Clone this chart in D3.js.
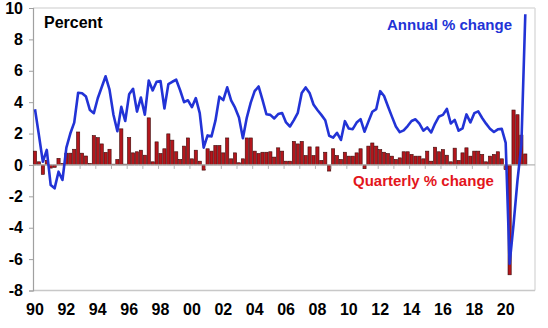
<!DOCTYPE html>
<html>
<head>
<meta charset="utf-8">
<script src="https://cdn.jsdelivr.net/npm/d3@7"></script>
<style>
  body { margin: 0; background: #fff; }
  svg { display: block; }
  text { font-family: "Liberation Sans", Arial, Helvetica, sans-serif; font-weight: bold; }
</style>
</head>
<body>
<svg id="chart" width="548" height="328"></svg>
<script>
// Australian real GDP growth, 1990 Q1 to 2021 Q2
const firstYear = 1990;
const quarterCount = 126;

// Quarterly % change
const quarterly = [
  0.88, 0.2, -0.6, 0.3, -0.2, -0.15, 0.42, 0.1,
  0.75, 0.75, 1.0, 2.1, 0.75, 0.57, 0.1, 1.87,
  1.74, 1.34, 0.8, 1.0, 0.05, 0.35, 2.3, 0.05,
  1.75, 0.77, 0.84, 0.94, 0.62, 3.0, 0.2, 1.47,
  0.73, 1.03, 1.98, 1.58, 0.84, 0.35, 1.2, 1.72,
  0.39, 0.94, 0.24, -0.33, 1.03, 0.88, 1.24, 1.24,
  0.77, 1.72, 0.39, 0.77, 0.14, 0.39, 1.72, 1.72,
  0.88, 0.73, 0.81, 0.81, 0.84, 0.5, 1.09, 0.88,
  0.24, 0.24, 1.5, 1.34, 1.5, 0.6, 1.15, 0.6,
  1.15, 0.29, 0.81, -0.39, 1.03, 0.6, 0.35, 0.81,
  0.56, 0.56, 0.77, 1.03, -0.24, 1.2, 1.4, 1.2,
  0.98, 0.81, 0.73, 0.56, 0.35, 0.45, 0.84, 0.84,
  0.67, 0.56, 0.56, 0.39, 0.88, 0.24, 1.13, 0.84,
  0.98, 0.62, 0.2, 1.07, 0.29, 0.77, 1.09, 0.56,
  0.88, 0.88, 0.67, 0.2, 0.56, 0.67, 0.84, 0.39,
  -0.3, -7.0, 3.5, 3.2, 1.9, 0.7
];

// Annual % change
const annual = [
  3.55, 1.9, 0.2, 0.96, -1.28, -1.49, -0.43, -0.96,
  1.1, 2.0, 2.7, 4.6, 4.57, 4.36, 3.5, 3.3,
  4.25, 4.95, 5.65, 4.8, 3.2, 2.15, 3.7, 2.8,
  4.5, 4.85, 3.4, 4.3, 3.2, 5.38, 4.75, 5.3,
  5.35, 3.6, 5.15, 5.3, 5.43, 4.76, 4.0, 4.12,
  3.68, 4.26, 3.3, 1.1, 1.88, 1.82, 2.82, 4.35,
  4.13, 4.95, 4.12, 3.65, 3.02, 1.7, 3.02, 3.97,
  4.7, 5.0, 4.14, 3.23, 3.19, 2.96, 3.24, 3.31,
  2.71, 2.45, 2.86, 3.32, 4.58, 4.94, 4.59, 3.85,
  3.5, 3.19, 2.85, 1.86, 1.74, 2.05, 1.59, 2.79,
  2.32, 2.28, 2.7, 2.92, 2.12, 2.76, 3.39, 3.56,
  4.7, 4.39, 3.72, 3.08, 2.45, 2.09, 2.2, 2.48,
  2.8, 2.91, 2.63, 2.18, 2.39, 2.07, 2.64, 3.09,
  3.19, 3.57, 2.64, 2.87, 2.18, 2.33, 3.22, 2.71,
  3.3, 3.41, 2.99, 2.63, 2.31, 2.1, 2.27, 2.3,
  1.4, -6.3, -3.8, -1.0, 1.3, 9.6
];

const yTicks = [-8, -6, -4, -2, 0, 2, 4, 6, 8, 10];
const xTickLabels = ["90", "92", "94", "96", "98", "00", "02", "04",
                     "06", "08", "10", "12", "14", "16", "18", "20"];

const quarters = d3.range(quarterCount).map(i =>
  `${firstYear + Math.floor(i / 4)}Q${(i % 4) + 1}`);
const rows = quarters.map((q, i) => ({ q, i, qq: quarterly[i], yy: annual[i] }));

const svg = d3.select("#chart");
const plotLeft = 33, plotRight = 535, plotTop = 8, plotBottom = 290.5;

const x = d3.scaleLinear().domain([0, quarterCount - 1]).range([35, 525.3]);
const y = d3.scaleLinear().domain([-8, 10]).range([plotBottom, plotTop]);

// plot frame
const frame = svg.append("g");
frame.append("line").attr("x1", plotLeft).attr("x2", plotRight).attr("y1", plotTop).attr("y2", plotTop)
  .attr("stroke", "#dcdcdc").attr("stroke-width", 1.5);
frame.append("line").attr("x1", plotRight).attr("x2", plotRight).attr("y1", plotTop).attr("y2", plotBottom)
  .attr("stroke", "#dcdcdc").attr("stroke-width", 1.5);
frame.append("line").attr("x1", plotLeft).attr("x2", plotRight).attr("y1", plotBottom).attr("y2", plotBottom)
  .attr("stroke", "#c8c8c8").attr("stroke-width", 1.5);

// y axis
const yAxis = d3.axisLeft(y).tickValues(yTicks).tickSize(4).tickPadding(6);
const gy = svg.append("g").attr("transform", `translate(${plotLeft},0)`).call(yAxis);
gy.select(".domain").attr("stroke", "#a0a0a0").attr("stroke-width", 1.2);
gy.selectAll(".tick line").attr("stroke", "#a0a0a0");
gy.selectAll(".tick text").attr("font-size", 16).attr("fill", "#000")
  .attr("font-family", null)
  .text(d => d < 0 ? "-" + Math.abs(d) : String(d));

// bars
svg.append("g").selectAll("rect").data(rows).join("rect")
  .attr("x", d => x(d.i) - 1.6)
  .attr("width", 3.2)
  .attr("y", d => y(Math.max(0, d.qq)))
  .attr("height", d => Math.abs(y(d.qq) - y(0)))
  .attr("fill", "#b3161c")
  .attr("stroke", "#3b0808")
  .attr("stroke-width", 0.6);

// zero line with year ticks
svg.append("line").attr("x1", plotLeft).attr("x2", plotRight).attr("y1", y(0)).attr("y2", y(0))
  .attr("stroke", "#b4b4b4").attr("stroke-width", 1.2);
const yearBounds = d3.range(1, 32).map(k => 4 * k - 0.5);
svg.append("g").selectAll("line").data(yearBounds).join("line")
  .attr("x1", d => x(d)).attr("x2", d => x(d))
  .attr("y1", y(0)).attr("y2", y(0) + 4)
  .attr("stroke", "#b4b4b4").attr("stroke-width", 1);

// annual line
const line = d3.line().x(d => x(d.i)).y(d => y(d.yy));
svg.append("path").datum(rows)
  .attr("d", line)
  .attr("fill", "none")
  .attr("stroke", "#2233d6")
  .attr("stroke-width", 2.6)
  .attr("stroke-linejoin", "round");

// x labels
svg.append("g").selectAll("text").data(xTickLabels).join("text")
  .attr("x", (d, k) => x(k * 8))
  .attr("y", 315)
  .attr("text-anchor", "middle")
  .attr("font-size", 16)
  .attr("fill", "#000")
  .text(d => d);

// labels
svg.append("text").attr("x", 44).attr("y", 27.5).attr("font-size", 16).attr("fill", "#000").text("Percent");
svg.append("text").attr("x", 387).attr("y", 29.5).attr("font-size", 15).attr("fill", "#2233d6").text("Annual % change");
svg.append("text").attr("x", 353).attr("y", 186).attr("font-size", 15).attr("fill", "#e3151c").text("Quarterly % change");
</script>
</body>
</html>
